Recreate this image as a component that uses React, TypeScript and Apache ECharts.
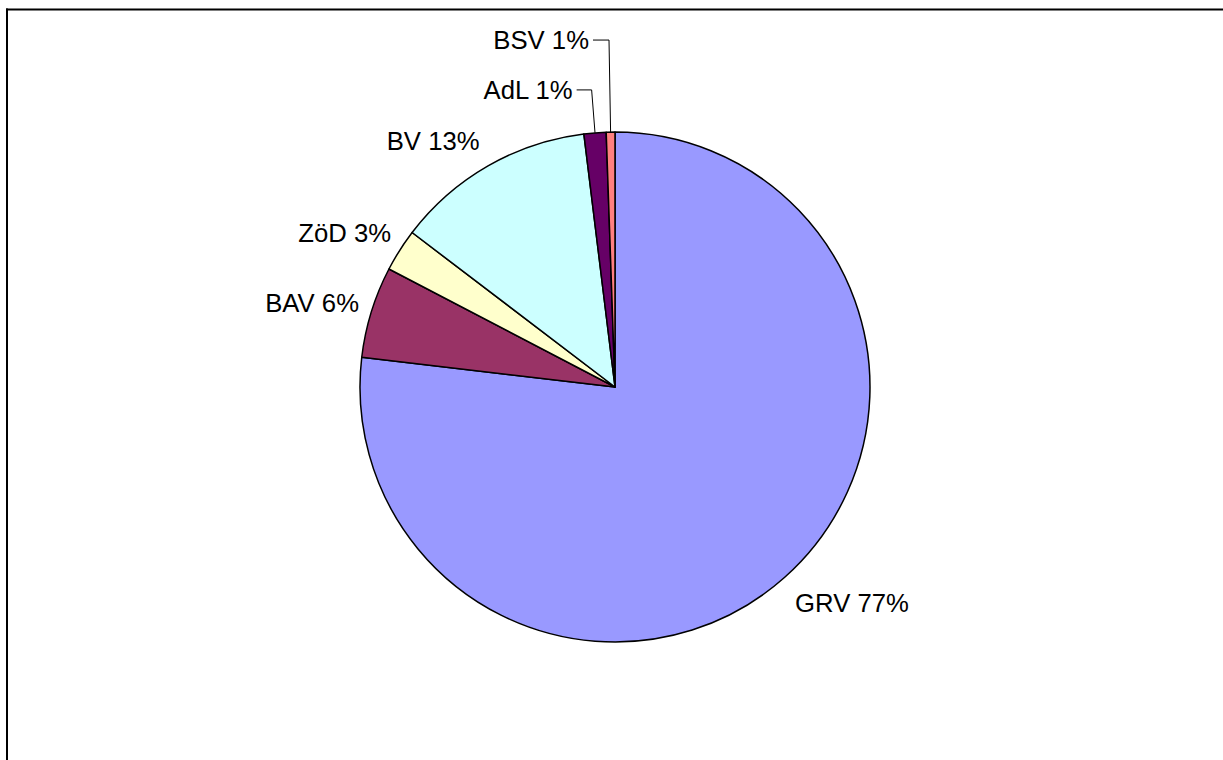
import React, { useEffect, useRef } from "react";
import * as echarts from "echarts";

const categories = ["GRV", "BAV", "ZöD", "BV", "AdL", "BSV"];
const values = [76.9, 5.8, 2.7, 12.7, 1.4, 0.55];
const colors = ["#9999FF", "#993366", "#FFFFCC", "#CCFFFF", "#660066", "#FF8080"];
// leader-line lengths [radial, horizontal, visible] per slice
const leaderLines: [number, number, boolean][] = [
  [28, 0, false],
  [15, 0, false],
  [15, 0, false],
  [15, 0, false],
  [43, 15, true],
  [92, 16, true],
];
// small label nudges [dx, dy] per slice
const labelNudges: [number, number][] = [
  [-12, 5],
  [6, -4],
  [8, -9],
  [3, -12],
  [0, 0],
  [0, 0],
];

export default function App() {
  const ref = useRef<HTMLDivElement>(null);
  useEffect(() => {
    if (!ref.current) return;
    document.body.style.margin = "0";
    document.body.style.overflow = "hidden";
    const chart = echarts.init(ref.current, undefined, { renderer: "svg" });
    const total = values.reduce((a, b) => a + b, 0);
    const data = categories.map((name, i) => ({
      name,
      value: values[i],
      itemStyle: { color: colors[i] },
      labelLine: {
        show: leaderLines[i][2],
        length: leaderLines[i][0],
        length2: leaderLines[i][1],
      },
    }));
    chart.setOption({
      animation: false,
      backgroundColor: "#ffffff",
      graphic: [
        {
          type: "line",
          shape: { x1: 6, y1: 9.5, x2: 1223, y2: 9.5 },
          style: { stroke: "#000", lineWidth: 2 },
          silent: true,
        },
        {
          type: "line",
          shape: { x1: 7, y1: 8.5, x2: 7, y2: 760 },
          style: { stroke: "#000", lineWidth: 2 },
          silent: true,
        },
      ],
      series: [
        {
          type: "pie",
          center: [615, 387],
          radius: [0, 255],
          startAngle: 90,
          clockwise: true,
          avoidLabelOverlap: false,
          data,
          itemStyle: { borderColor: "#000", borderWidth: 1.5 },
          label: {
            show: true,
            position: "outside",
            color: "#000",
            fontSize: 25.7,
            fontFamily: "Liberation Sans, Arial, sans-serif",
            distanceToLabelLine: 4,
            formatter: (p: any) => `${p.name} ${Math.round((p.value / total) * 100)}%`,
          },
          labelLine: {
            lineStyle: { color: "#000", width: 1 },
            smooth: false,
          },
          labelLayout: (p: any) => ({
            dx: labelNudges[p.dataIndex][0],
            dy: labelNudges[p.dataIndex][1],
          }),
          emphasis: { disabled: true },
        },
      ],
    });
    return () => chart.dispose();
  }, []);
  return (
    <div
      ref={ref}
      style={{ position: "absolute", left: 0, top: 0, width: 1223, height: 760 }}
    />
  );
}
